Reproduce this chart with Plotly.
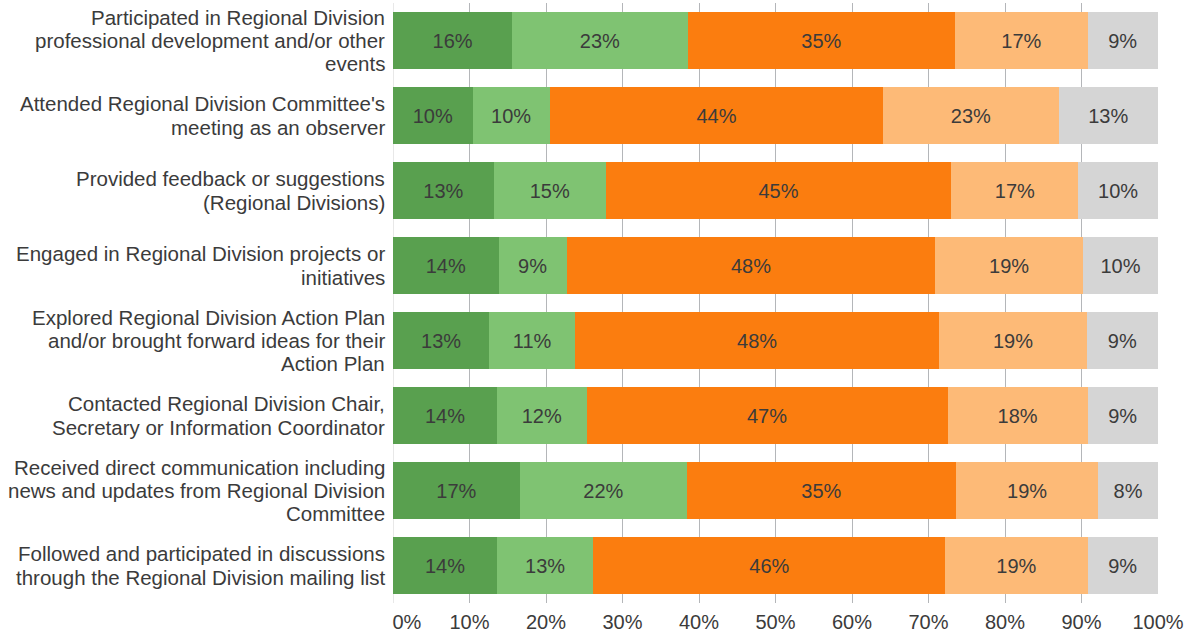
import plotly.graph_objects as go

categories = [
    "Participated in Regional Division<br>professional development and/or other<br>events",
    "Attended Regional Division Committee's<br>meeting as an observer",
    "Provided feedback or suggestions<br>(Regional Divisions)",
    "Engaged in Regional Division projects or<br>initiatives",
    "Explored Regional Division Action Plan<br>and/or brought forward ideas for their<br>Action Plan",
    "Contacted Regional Division Chair,<br>Secretary or Information Coordinator",
    "Received direct communication including<br>news and updates from Regional Division<br>Committee",
    "Followed and participated in discussions<br>through the Regional Division mailing list",
]

s1 = [15.6, 10.4, 13.2, 13.8, 12.6, 13.6, 16.6, 13.6]
s2 = [22.9, 10.1, 14.6, 8.9, 11.2, 11.7, 21.8, 12.6]
s3 = [35.0, 43.6, 45.2, 48.2, 47.6, 47.2, 35.2, 46.0]
s4 = [17.3, 22.9, 16.6, 19.3, 19.3, 18.3, 18.6, 18.6]
s5 = [9.2, 13.0, 10.4, 9.8, 9.3, 9.2, 7.8, 9.2]

series = [s1, s2, s3, s4, s5]
colors = ["#59a04f", "#7fc372", "#fb7d0f", "#fdba77", "#d5d5d5"]

tick_vals = [0, 10, 20, 30, 40, 50, 60, 70, 80, 90, 100]
tick_text = ["\u00a0\u00a0\u00a0\u00a0\u00a00%"] + [f"{v}%" for v in tick_vals[1:]]

font_family = "Liberation Sans, Arial, sans-serif"
text_color = "#3b3b3b"

fig = go.Figure()
for vals, col in zip(series, colors):
    fig.add_trace(go.Bar(
        y=categories,
        x=vals,
        orientation="h",
        marker=dict(color=col, line=dict(width=0)),
        texttemplate="%{x:.0f}%",
        textposition="inside",
        insidetextanchor="middle",
        textfont=dict(size=20, color=text_color, family=font_family),
        hoverinfo="skip",
    ))

# category labels, one annotation per line for tight line spacing
line_gap = 23.3
annotations = []
for cat in categories:
    lines = cat.split("<br>")
    n = len(lines)
    for i, ln in enumerate(lines):
        annotations.append(dict(
            x=0, xref="paper", xanchor="right", xshift=-6,
            y=cat, yref="y", yanchor="middle",
            yshift=-(i - (n - 1) / 2) * line_gap,
            text=ln, showarrow=False,
            font=dict(size=20.5, color=text_color, family=font_family),
        ))

fig.update_layout(
    barmode="stack",
    bargap=0.24,
    width=1192,
    height=634,
    margin=dict(l=393, r=34, t=3, b=31, autoexpand=False),
    plot_bgcolor="white",
    paper_bgcolor="white",
    showlegend=False,
    font=dict(family=font_family, size=20, color=text_color),
    annotations=annotations,
    xaxis=dict(
        range=[0, 100],
        tickvals=tick_vals,
        ticktext=tick_text,
        showgrid=True,
        gridcolor="#b4b6b9",
        gridwidth=1,
        zeroline=True,
        zerolinecolor="#e8e8e8",
        zerolinewidth=1,
        ticks="outside",
        ticklen=1,
        tickcolor="rgba(0,0,0,0)",
        tickfont=dict(size=20, color=text_color),
        automargin=False,
        fixedrange=True,
    ),
    yaxis=dict(
        categoryorder="array",
        categoryarray=categories,
        autorange="reversed",
        showgrid=False,
        showticklabels=False,
        automargin=False,
        fixedrange=True,
    ),
)

fig.write_html(
    "out.html",
    config={"displayModeBar": False},
    post_script="document.body.style.margin='0';document.body.style.padding='0';document.body.style.overflow='hidden';",
)
